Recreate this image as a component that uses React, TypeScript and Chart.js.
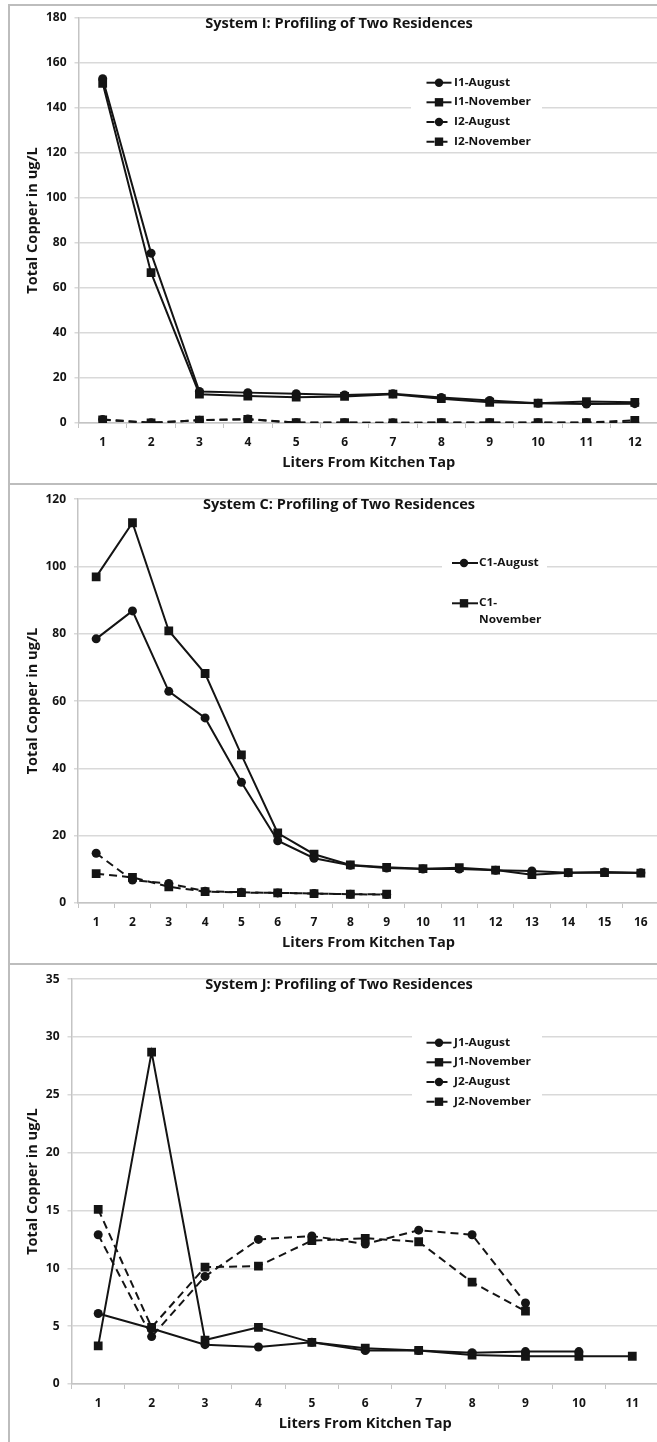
import React, { useEffect, useRef } from 'react';
import { Chart, registerables } from 'chart.js';

Chart.register(...registerables);

// ---------- System I ----------
const systemILiters = ['1', '2', '3', '4', '5', '6', '7', '8', '9', '10', '11', '12'];
const i1August = [153, 75.5, 14, 13.5, 13, 12.5, 13, 11.3, 10, 8.8, 8.4, 8.6];
const i1November = [151, 66.8, 12.8, 12, 11.5, 11.8, 12.8, 10.8, 9.2, 8.8, 9.5, 9.2];
const i2August = [1.6, 0.1, 1.2, 1.8, 0.1, 0.1, 0.1, 0.1, 0.1, 0.1, 0.1, 0.2];
const i2November = [1.4, 0.1, 1.3, 1.6, 0.2, 0.2, 0.1, 0.2, 0.2, 0.2, 0.2, 1.2];

// ---------- System C ----------
const systemCLiters = ['1', '2', '3', '4', '5', '6', '7', '8', '9', '10', '11', '12', '13', '14', '15', '16'];
const c1August = [78.5, 86.8, 62.9, 55, 35.9, 18.5, 13.3, 11.2, 10.4, 10.1, 10.1, 9.7, 9.5, 9, 9.2, 9];
const c1November = [96.9, 113, 80.9, 68.2, 44, 20.8, 14.5, 11.3, 10.6, 10.2, 10.5, 9.8, 8.4, 9, 9, 8.9];
const c2August = [14.8, 6.8, 5.8, 3.5, 3.2, 3, 2.8, 2.6, 2.5];
const c2November = [8.7, 7.6, 4.8, 3.4, 3.1, 3, 2.8, 2.6, 2.6];

// ---------- System J ----------
const systemJLiters = ['1', '2', '3', '4', '5', '6', '7', '8', '9', '10', '11'];
const j1August = [6.1, 4.8, 3.4, 3.2, 3.6, 2.9, 2.9, 2.7, 2.8, 2.8];
const j1November = [3.3, 28.7, 3.8, 4.9, 3.6, 3.1, 2.9, 2.5, 2.4, 2.4, 2.4];
const j2August = [12.9, 4.1, 9.3, 12.5, 12.8, 12.1, 13.3, 12.9, 7.0];
const j2November = [15.1, 4.9, 10.1, 10.2, 12.4, 12.6, 12.3, 8.8, 6.3];

const FONT = '"Open Sans", "DejaVu Sans", sans-serif';
const INK = '#141414';
const GRID = '#d9d9d9';
const AXIS = '#c4c4c4';
const FRAME = '#bdbdbd';
const STRETCH = 1.08;
const DASH = [8, 5];
const CANVAS_W = 680;

type Marker = 'circle' | 'rect';
type SeriesSpec = { label: string; data: number[]; marker: Marker; dashed: boolean };
type LegendRow = { lines: string[]; y: number; marker: Marker; dashed: boolean };
type PanelSpec = {
  top: number;
  height: number;
  areaTop: number;
  areaBottom: number;
  areaLeft: number;
  yMax: number;
  yStep: number;
  labels: string[];
  title: string;
  series: SeriesSpec[];
  legend: {
    box: [number, number, number, number];
    sampleX0: number;
    sampleX1: number;
    markerX: number;
    textX: number;
    rows: LegendRow[];
  };
};

const PANELS: PanelSpec[] = [
  {
    top: 0,
    height: 484,
    areaTop: 18,
    areaBottom: 423,
    areaLeft: 78.5,
    yMax: 180,
    yStep: 20,
    labels: systemILiters,
    title: 'System I: Profiling of Two Residences',
    series: [
      { label: 'I1-August', data: i1August, marker: 'circle', dashed: false },
      { label: 'I1-November', data: i1November, marker: 'rect', dashed: false },
      { label: 'I2-August', data: i2August, marker: 'circle', dashed: true },
      { label: 'I2-November', data: i2November, marker: 'rect', dashed: true },
    ],
    legend: {
      box: [411, 71, 131, 81],
      sampleX0: 426.5,
      sampleX1: 451.5,
      markerX: 439,
      textX: 454,
      rows: [
        { lines: ['I1-August'], y: 82.7, marker: 'circle', dashed: false },
        { lines: ['I1-November'], y: 102.3, marker: 'rect', dashed: false },
        { lines: ['I2-August'], y: 122, marker: 'circle', dashed: true },
        { lines: ['I2-November'], y: 141.7, marker: 'rect', dashed: true },
      ],
    },
  },
  {
    top: 484,
    height: 480,
    areaTop: 14,
    areaBottom: 419,
    areaLeft: 78,
    yMax: 120,
    yStep: 20,
    labels: systemCLiters,
    title: 'System C: Profiling of Two Residences',
    series: [
      { label: 'C1-August', data: c1August, marker: 'circle', dashed: false },
      { label: 'C1-November', data: c1November, marker: 'rect', dashed: false },
      { label: 'C2-August', data: c2August, marker: 'circle', dashed: true },
      { label: 'C2-November', data: c2November, marker: 'rect', dashed: true },
    ],
    legend: {
      box: [442, 64, 105, 80],
      sampleX0: 452,
      sampleX1: 478,
      markerX: 464,
      textX: 479,
      rows: [
        { lines: ['C1-August'], y: 79, marker: 'circle', dashed: false },
        { lines: ['C1-', 'November'], y: 119.3, marker: 'rect', dashed: false },
      ],
    },
  },
  {
    top: 964,
    height: 478,
    areaTop: 14.5,
    areaBottom: 420,
    areaLeft: 71.5,
    yMax: 35,
    yStep: 5,
    labels: systemJLiters,
    title: 'System J: Profiling of Two Residences',
    series: [
      { label: 'J1-August', data: j1August, marker: 'circle', dashed: false },
      { label: 'J1-November', data: j1November, marker: 'rect', dashed: false },
      { label: 'J2-August', data: j2August, marker: 'circle', dashed: true },
      { label: 'J2-November', data: j2November, marker: 'rect', dashed: true },
    ],
    legend: {
      box: [412, 67, 130, 81],
      sampleX0: 426.5,
      sampleX1: 451.5,
      markerX: 439,
      textX: 454,
      rows: [
        { lines: ['J1-August'], y: 78.7, marker: 'circle', dashed: false },
        { lines: ['J1-November'], y: 98.3, marker: 'rect', dashed: false },
        { lines: ['J2-August'], y: 118, marker: 'circle', dashed: true },
        { lines: ['J2-November'], y: 137.7, marker: 'rect', dashed: true },
      ],
    },
  },
];

function drawText(
  ctx: CanvasRenderingContext2D,
  text: string,
  x: number,
  y: number,
  size: number,
  align: CanvasTextAlign,
  rotate = false,
) {
  ctx.save();
  ctx.translate(x, y);
  if (rotate) ctx.rotate(-Math.PI / 2);
  ctx.scale(STRETCH, 1);
  ctx.font = `bold ${size}px ${FONT}`;
  ctx.textAlign = align;
  ctx.textBaseline = 'middle';
  ctx.fillStyle = INK;
  ctx.fillText(text, 0, 0);
  ctx.restore();
}

function drawMarker(ctx: CanvasRenderingContext2D, marker: Marker, x: number, y: number) {
  ctx.fillStyle = INK;
  ctx.beginPath();
  if (marker === 'circle') {
    ctx.arc(x, y, 4.2, 0, Math.PI * 2);
  } else {
    ctx.rect(x - 4.2, y - 4.2, 8.4, 8.4);
  }
  ctx.fill();
}

function decorations(spec: PanelSpec) {
  return {
    id: 'panelDecorations',
    afterDraw(chart: Chart) {
      const ctx = chart.ctx;
      const area = chart.chartArea;
      ctx.save();

      // chart title
      drawText(ctx, spec.title, 339, area.top + 6, 13.5, 'center');

      // axis titles
      drawText(ctx, 'Liters From Kitchen Tap', (area.left + area.right) / 2, area.bottom + 40, 13.5, 'center');
      drawText(ctx, 'Total Copper in ug/L', 33, (area.top + area.bottom) / 2, 13.5, 'center', true);

      // legend
      const lg = spec.legend;
      const [bx, by, bw, bh] = lg.box;
      ctx.fillStyle = '#ffffff';
      ctx.fillRect(bx, by, bw, bh);
      for (const row of lg.rows) {
        ctx.save();
        ctx.strokeStyle = INK;
        ctx.lineWidth = 2;
        ctx.setLineDash(row.dashed ? DASH : []);
        ctx.beginPath();
        ctx.moveTo(lg.sampleX0, row.y);
        ctx.lineTo(lg.sampleX1, row.y);
        ctx.stroke();
        ctx.restore();
        drawMarker(ctx, row.marker, lg.markerX, row.y);
        row.lines.forEach((line, i) => {
          drawText(ctx, line, lg.textX, row.y + i * 16.7, 11, 'left');
        });
      }
      ctx.restore();
    },
  };
}

function Panel({ spec }: { spec: PanelSpec }) {
  const ref = useRef<HTMLCanvasElement>(null);

  useEffect(() => {
    const canvas = ref.current;
    if (!canvas) return;
    const tickFont = { family: FONT, size: 12, weight: 'bold' as const };

    const chart = new Chart(canvas, {
      type: 'line',
      data: {
        labels: spec.labels,
        datasets: spec.series.map((s) => ({
          label: s.label,
          data: s.data,
          borderColor: INK,
          backgroundColor: INK,
          borderWidth: 2,
          borderDash: s.dashed ? DASH : [],
          pointStyle: s.marker,
          pointRadius: s.marker === 'circle' ? 4.5 : 6.2,
          pointBackgroundColor: INK,
          pointBorderColor: INK,
          pointBorderWidth: 0,
          tension: 0,
          fill: false,
        })),
      },
      options: {
        responsive: false,
        animation: false,
        devicePixelRatio: 1,
        events: [],
        layout: {
          padding: { top: spec.areaTop, left: 0, right: CANVAS_W - 659, bottom: 0 },
        },
        plugins: {
          legend: { display: false },
          tooltip: { enabled: false },
          title: { display: false },
        },
        scales: {
          x: {
            type: 'category',
            offset: true,
            grid: {
              display: true,
              drawOnChartArea: false,
              drawTicks: true,
              tickLength: 5,
              offset: true,
              color: AXIS,
              lineWidth: 1,
            },
            border: { display: true, color: AXIS, width: 1.5 },
            ticks: {
              font: tickFont,
              color: INK,
              padding: 7,
              maxRotation: 0,
              autoSkip: false,
            },
            afterFit: (scale: any) => {
              scale.height = spec.height - spec.areaBottom;
            },
          },
          y: {
            min: 0,
            max: spec.yMax,
            grid: { color: GRID, lineWidth: 1.5, drawTicks: true, tickLength: 4 },
            border: { display: true, color: AXIS, width: 1.5 },
            ticks: {
              stepSize: spec.yStep,
              font: tickFont,
              color: INK,
              padding: 8,
            },
            afterFit: (scale: any) => {
              scale.width = spec.areaLeft;
            },
          },
        },
      },
      plugins: [decorations(spec)],
    });

    return () => chart.destroy();
  }, [spec]);

  return (
    <canvas
      ref={ref}
      width={CANVAS_W}
      height={spec.height}
      style={{ position: 'absolute', left: 0, top: spec.top, width: CANVAS_W, height: spec.height }}
    />
  );
}

export default function App() {
  return (
    <div
      style={{
        position: 'absolute',
        left: 0,
        top: 0,
        width: 657,
        height: 1442,
        overflow: 'hidden',
        background: '#ffffff',
      }}
    >
      {PANELS.map((p, i) => (
        <Panel key={i} spec={p} />
      ))}
      <div style={{ position: 'absolute', left: 8, top: 4, width: 2, height: 1438, background: FRAME }} />
      <div style={{ position: 'absolute', left: 8, top: 4, width: 649, height: 2, background: FRAME }} />
      <div style={{ position: 'absolute', left: 8, top: 483, width: 649, height: 2, background: FRAME }} />
      <div style={{ position: 'absolute', left: 8, top: 963, width: 649, height: 2, background: FRAME }} />
    </div>
  );
}
